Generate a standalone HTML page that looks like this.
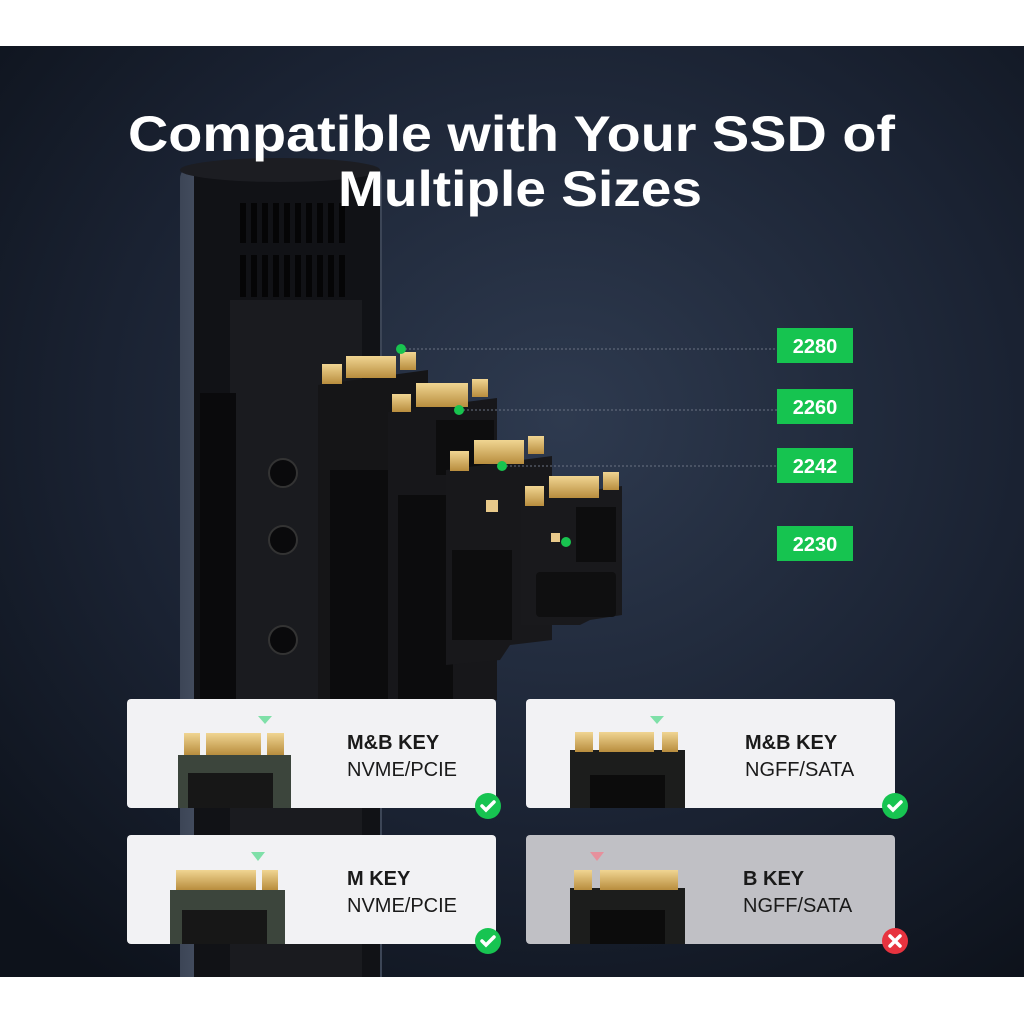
<!DOCTYPE html>
<html><head><style>
body{margin:0;width:1024px;height:1024px;background:#fff;overflow:hidden;font-family:"Liberation Sans",sans-serif}
</style></head><body>
<svg width="1024" height="1024" viewBox="0 0 1024 1024" xmlns="http://www.w3.org/2000/svg">
<defs>
<radialGradient id="bg" cx="0.55" cy="0.4" r="0.75">
<stop offset="0" stop-color="#2e3a4f"/><stop offset="0.6" stop-color="#1a2232"/><stop offset="1" stop-color="#0d121b"/>
</radialGradient>
<linearGradient id="frame" x1="0" x2="1"><stop offset="0" stop-color="#3c4556"/><stop offset="0.5" stop-color="#6a7588"/><stop offset="1" stop-color="#3c4556"/></linearGradient>
<linearGradient id="gold" x1="0" y1="0" x2="0" y2="1"><stop offset="0" stop-color="#f0d592"/><stop offset="1" stop-color="#b88d3e"/></linearGradient>
<clipPath id="pc"><rect x="0" y="46" width="1024" height="931"/></clipPath>
</defs>
<rect x="0" y="46" width="1024" height="931" fill="url(#bg)"/>
<g clip-path="url(#pc)">
<!-- enclosure -->
<rect x="180" y="165" width="202" height="835" rx="14" fill="url(#frame)"/>
<rect x="194" y="168" width="186" height="832" rx="8" fill="#111216"/>
<ellipse cx="280" cy="170" rx="100" ry="12" fill="#1c1d22"/>
<g fill="#050506">
<rect x="240" y="203" width="6" height="40"/><rect x="251" y="203" width="6" height="40"/><rect x="262" y="203" width="6" height="40"/><rect x="273" y="203" width="6" height="40"/><rect x="284" y="203" width="6" height="40"/><rect x="295" y="203" width="6" height="40"/><rect x="306" y="203" width="6" height="40"/><rect x="317" y="203" width="6" height="40"/><rect x="328" y="203" width="6" height="40"/><rect x="339" y="203" width="6" height="40"/>
<rect x="240" y="255" width="6" height="42"/><rect x="251" y="255" width="6" height="42"/><rect x="262" y="255" width="6" height="42"/><rect x="273" y="255" width="6" height="42"/><rect x="284" y="255" width="6" height="42"/><rect x="295" y="255" width="6" height="42"/><rect x="306" y="255" width="6" height="42"/><rect x="317" y="255" width="6" height="42"/><rect x="328" y="255" width="6" height="42"/><rect x="339" y="255" width="6" height="42"/>
</g>
<rect x="230" y="300" width="132" height="700" fill="#1a1b1f"/>
<rect x="200" y="393" width="36" height="310" fill="#0a0a0c"/>
<g fill="#0a0a0c" stroke="#333" stroke-width="2">
<circle cx="283" cy="473" r="14"/><circle cx="283" cy="540" r="14"/><circle cx="283" cy="640" r="14"/></g>
</g>
<!-- SSDs -->
<g>
<path d="M318 385 L428 370 L428 700 L318 700 Z" fill="#151517"/>
<rect x="322" y="364" width="20" height="20" fill="url(#gold)"/><rect x="346" y="356" width="50" height="22" fill="url(#gold)"/><rect x="400" y="352" width="16" height="18" fill="url(#gold)"/>
<rect x="330" y="470" width="60" height="230" fill="#0c0c0d"/>
</g>
<g>
<path d="M388 412 L497 398 L497 700 L388 700 Z" fill="#17171a"/>
<rect x="392" y="394" width="19" height="18" fill="url(#gold)"/><rect x="416" y="383" width="52" height="24" fill="url(#gold)"/><rect x="472" y="379" width="16" height="18" fill="url(#gold)"/>
<rect x="436" y="420" width="58" height="55" fill="#0d0d0e"/>
<rect x="398" y="495" width="55" height="205" fill="#0c0c0d"/>
</g>
<g>
<path d="M446 470 L552 456 L552 640 L510 645 L500 660 L446 665 Z" fill="#18181b"/>
<rect x="450" y="451" width="19" height="20" fill="url(#gold)"/><rect x="474" y="440" width="50" height="24" fill="url(#gold)"/><rect x="528" y="436" width="16" height="18" fill="url(#gold)"/>
<rect x="452" y="550" width="60" height="90" fill="#0d0d0e"/>
<rect x="486" y="500" width="12" height="12" fill="#e8c98a"/>
</g>
<g>
<path d="M521 500 L622 486 L622 615 L590 620 L580 625 L521 625 Z" fill="#19191c"/>
<rect x="525" y="486" width="19" height="20" fill="url(#gold)"/><rect x="549" y="476" width="50" height="22" fill="url(#gold)"/><rect x="603" y="472" width="16" height="18" fill="url(#gold)"/>
<rect x="576" y="507" width="40" height="55" fill="#0d0d0e"/>
<rect x="536" y="572" width="80" height="45" rx="4" fill="#0f0f10"/>
<rect x="551" y="533" width="9" height="9" fill="#e8c98a"/>
</g>
<!-- leader lines -->
<g stroke="#6b7383" stroke-width="1" stroke-dasharray="2,2">
<line x1="405" y1="349" x2="777" y2="349"/><line x1="463" y1="410" x2="777" y2="410"/><line x1="506" y1="466" x2="777" y2="466"/></g>
<g fill="#18c44f"><circle cx="401" cy="349" r="5"/><circle cx="459" cy="410" r="5"/><circle cx="502" cy="466" r="5"/><circle cx="566" cy="542" r="5"/></g>
<g fill="#16c450"><rect x="777" y="328" width="76" height="35"/><rect x="777" y="389" width="76" height="35"/><rect x="777" y="448" width="76" height="35"/><rect x="777" y="526" width="76" height="35"/></g>
<g fill="#fff" font-family="Liberation Sans" font-weight="bold" font-size="20" text-anchor="middle">
<text x="815" y="353">2280</text><text x="815" y="414">2260</text><text x="815" y="473">2242</text><text x="815" y="551">2230</text></g>
<!-- title -->
<g fill="#fff" font-family="Liberation Sans" font-weight="bold" font-size="50">
<text x="128" y="151" textLength="767" lengthAdjust="spacingAndGlyphs">Compatible with Your SSD of</text><text x="338" y="206" textLength="364" lengthAdjust="spacingAndGlyphs">Multiple Sizes</text></g>
<!-- cards -->
<rect x="127" y="699" width="369" height="109" rx="4" fill="#f2f2f4"/>
<rect x="526" y="699" width="369" height="109" rx="4" fill="#f2f2f4"/>
<rect x="127" y="835" width="369" height="109" rx="4" fill="#f2f2f4"/>
<rect x="526" y="835" width="369" height="109" rx="4" fill="#c0c0c5"/>
<!-- mini boards -->
<g>
<path d="M178 755 L291 755 L291 808 L178 808 Z" fill="#3c453c"/><rect x="184" y="733" width="16" height="22" fill="url(#gold)"/><rect x="206" y="733" width="55" height="22" fill="url(#gold)"/><rect x="267" y="733" width="17" height="22" fill="url(#gold)"/><rect x="188" y="773" width="85" height="35" fill="#171717"/>
<polygon points="258,716 272,716 265,724" fill="#7fe0a8"/>
<path d="M570 750 L685 750 L685 808 L570 808 Z" fill="#1c1d1c"/><rect x="575" y="732" width="18" height="20" fill="url(#gold)"/><rect x="599" y="732" width="55" height="20" fill="url(#gold)"/><rect x="662" y="732" width="16" height="20" fill="url(#gold)"/><rect x="590" y="775" width="75" height="33" fill="#0c0c0c"/>
<polygon points="650,716 664,716 657,724" fill="#7fe0a8"/>
<path d="M170 890 L285 890 L285 944 L170 944 Z" fill="#3c453c"/><rect x="176" y="870" width="80" height="20" fill="url(#gold)"/><rect x="262" y="870" width="16" height="20" fill="url(#gold)"/><rect x="182" y="910" width="85" height="34" fill="#171717"/>
<polygon points="251,852 265,852 258,861" fill="#7fe0a8"/>
<path d="M570 888 L685 888 L685 944 L570 944 Z" fill="#1c1d1c"/><rect x="574" y="870" width="18" height="20" fill="url(#gold)"/><rect x="600" y="870" width="78" height="20" fill="url(#gold)"/><rect x="590" y="910" width="75" height="34" fill="#0c0c0c"/>
<polygon points="590,852 604,852 597,861" fill="#e6909c"/>
</g>
<g font-family="Liberation Sans" fill="#1a1a1a">
<text x="347" y="749" font-weight="bold" font-size="20">M&amp;B KEY</text><text x="347" y="776" font-size="20">NVME/PCIE</text>
<text x="745" y="749" font-weight="bold" font-size="20">M&amp;B KEY</text><text x="745" y="776" font-size="20">NGFF/SATA</text>
<text x="347" y="885" font-weight="bold" font-size="20">M KEY</text><text x="347" y="912" font-size="20">NVME/PCIE</text>
<text x="743" y="885" font-weight="bold" font-size="20">B KEY</text><text x="743" y="912" font-size="20">NGFF/SATA</text>
</g>
<g stroke="#fff" stroke-width="3.5" fill="none" stroke-linecap="round">
<circle cx="488" cy="806" r="13" fill="#17c451" stroke="none"/><path d="M482 806 L486 810 L494 802"/>
<circle cx="895" cy="806" r="13" fill="#17c451" stroke="none"/><path d="M889 806 L893 810 L901 802"/>
<circle cx="488" cy="941" r="13" fill="#17c451" stroke="none"/><path d="M482 941 L486 945 L494 937"/>
<circle cx="895" cy="941" r="13" fill="#e7333f" stroke="none"/><path d="M890 936 L900 946 M900 936 L890 946"/>
</g>
</svg>
</body></html>
